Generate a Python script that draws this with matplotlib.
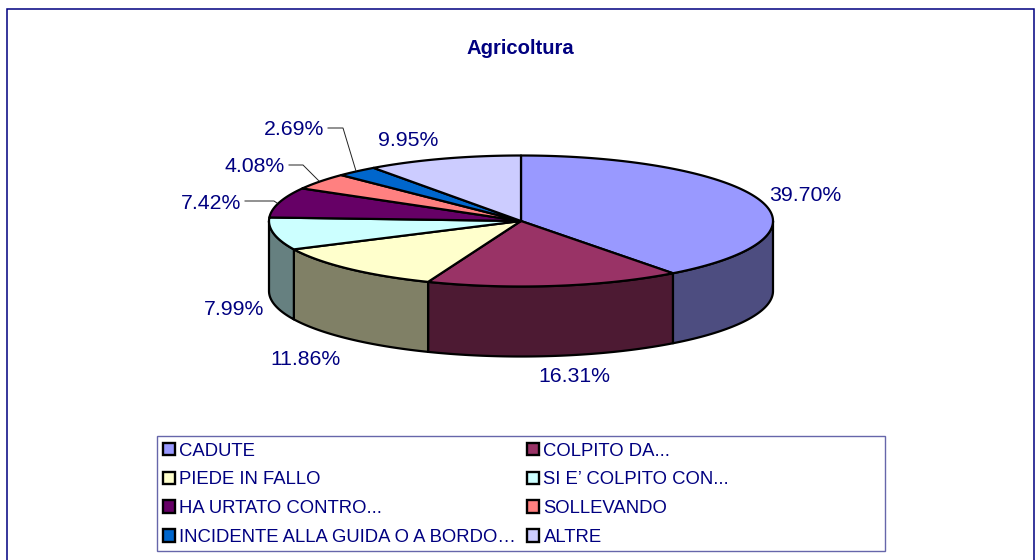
import numpy as np
import matplotlib
matplotlib.use("Agg")
import matplotlib.pyplot as plt
from matplotlib.patches import Polygon, Rectangle, Patch

plt.rcParams['font.family'] = ['Liberation Sans', 'DejaVu Sans']

title = "Agricoltura"
categories = ["CADUTE", "COLPITO DA...", "PIEDE IN FALLO", "SI E\u2019 COLPITO CON...",
              "HA URTATO CONTRO...", "SOLLEVANDO",
              "INCIDENTE ALLA GUIDA O A BORDO\u2026", "ALTRE"]
values = [39.70, 16.31, 11.86, 7.99, 7.42, 4.08, 2.69, 9.95]
top_colors = ["#9999FF", "#993366", "#FFFFCC", "#CCFFFF", "#660066", "#FF8080", "#0066CC", "#CCCCFF"]
side_colors = ["#4D4D80", "#4D1A33", "#808066", "#668080", "#330033", "#804040", "#003366", "#666680"]
label_pos = [(805, 195.5), (574, 377), (305, 359.5), (234, 309.5), (211, 203.5), (255, 166.5), (294, 129.5), (408, 140.5)]
leaders = {4: [(245, 201), (274, 201), (277, 203)],
           5: [(289, 165), (303, 165), (319, 181)],
           6: [(328, 128), (343, 128), (356, 171)]}

navy = "#000080"
cx, cy, rx, ry, depth = 521, 221, 252, 65.5, 70


def rim(a0, a1, dy=0):
    # angles run clockwise from the top of the ellipse
    t = np.radians(np.linspace(a0, a1, max(int(abs(a1 - a0)) * 2, 2)))
    return np.column_stack([cx + rx * np.sin(t), cy - ry * np.cos(t) + dy])


fig = plt.figure(figsize=(10.35, 5.6), dpi=100)
ax = fig.add_axes([0, 0, 1, 1])
ax.set_xlim(0, 1035)
ax.set_ylim(560, 0)
ax.axis("off")

ax.add_patch(Rectangle((7, 9), 1027, 560, fc="white", ec=navy, lw=1.1))
ax.text(520.5, 48.5, title, color=navy, fontsize=14.6, fontweight="bold", ha="center", va="center")

edges = np.concatenate([[0], np.cumsum(values) / np.sum(values) * 360])

# side wall, only the front half can be seen
for i in range(len(values)):
    a0, a1 = max(edges[i], 90), min(edges[i + 1], 270)
    if a1 <= a0:
        continue
    pts = np.vstack([rim(a0, a1), rim(a0, a1, depth)[::-1]])
    ax.add_patch(Polygon(pts, closed=True, fc=side_colors[i], ec="black", lw=1.6, joinstyle="round"))

# top face
for i in range(len(values)):
    pts = np.vstack([[(cx, cy)], rim(edges[i], edges[i + 1])])
    ax.add_patch(Polygon(pts, closed=True, fc=top_colors[i], ec="black", lw=1.6, joinstyle="round"))

for i, pts in leaders.items():
    xs, ys = zip(*pts)
    ax.plot(xs, ys, color="#222222", lw=0.7)

for v, (x, y) in zip(values, label_pos):
    ax.text(x, y, f"{v:.2f}%", color=navy, fontsize=15.3, ha="center", va="center")

# legend: frame is drawn apart so it can be wider than the text
ax.add_patch(Rectangle((157, 436), 728, 115, fc="white", ec="#6666AA", lw=1.0))
handles = [Patch(fc=c, ec="black", lw=1.7) for c in top_colors]
order = list(range(0, 8, 2)) + list(range(1, 8, 2))
ax.legend([handles[i] for i in order], [categories[i] for i in order], ncols=2, frameon=False,
          loc="upper left", bbox_to_anchor=(163 / 1035, 1 - 442.5 / 560), bbox_transform=fig.transFigure,
          borderpad=0, borderaxespad=0, fontsize=13.3, labelcolor=navy,
          handlelength=0.65, handleheight=0.65, handletextpad=0.22,
          labelspacing=0.64, columnspacing=0.62)

fig.savefig("out.png", dpi=100)
